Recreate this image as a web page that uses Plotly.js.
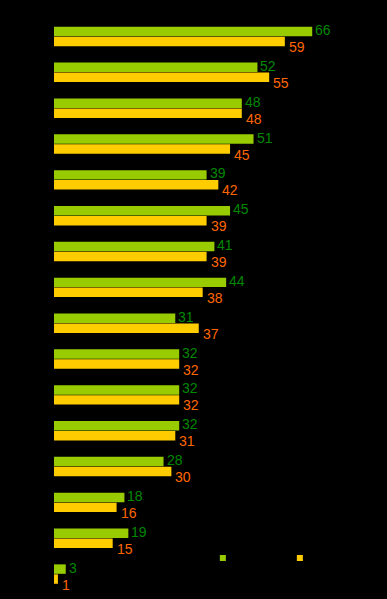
<!DOCTYPE html>
<html>
<head>
<meta charset="utf-8">
<script src="https://cdn.plot.ly/plotly-3.0.1.min.js"></script>
<style>html,body{margin:0;padding:0;background:#000;}#chart{width:387px;height:599px;}</style>
</head>
<body>
<div id="chart"></div>
<script>
var categories = ["c1","c2","c3","c4","c5","c6","c7","c8","c9","c10","c11","c12","c13","c14","c15","c16"];
var seriesA = [66,52,48,51,39,45,41,44,31,32,32,32,28,18,19,3];
var seriesB = [59,55,48,45,42,39,39,38,37,32,32,31,30,16,15,1];
var seriesNames = ["A","B"];

var GREEN = "#99cc00", YELLOW = "#ffcc00", GREEN_TXT = "#008800", ORANGE_TXT = "#ff6600";

var traces = [
  {type:"bar", orientation:"h", y:categories, x:seriesA, name:seriesNames[0],
   marker:{color:GREEN}, showlegend:false, hoverinfo:"none"},
  {type:"bar", orientation:"h", y:categories, x:seriesB, name:seriesNames[1],
   marker:{color:YELLOW}, showlegend:false, hoverinfo:"none"},
  {type:"scatter", mode:"markers", x:[null], y:[null], name:seriesNames[0],
   marker:{symbol:"square", size:6, color:GREEN}, hoverinfo:"none"},
  {type:"scatter", mode:"markers", x:[null], y:[null], name:seriesNames[1],
   marker:{symbol:"square", size:6, color:YELLOW}, hoverinfo:"none"}
];

var annotations = [];
categories.forEach(function(c, i){
  annotations.push({x:seriesA[i], y:i, text:String(seriesA[i]), showarrow:false,
    xanchor:"left", yanchor:"middle", xshift:1, yshift:6.5,
    font:{family:"Liberation Sans, Arial, sans-serif", size:14, color:GREEN_TXT}});
  annotations.push({x:seriesB[i], y:i, text:String(seriesB[i]), showarrow:false,
    xanchor:"left", yanchor:"middle", xshift:2, yshift:-10.5,
    font:{family:"Liberation Sans, Arial, sans-serif", size:14, color:ORANGE_TXT}});
});

var layout = {
  width:387, height:599,
  paper_bgcolor:"#000", plot_bgcolor:"#000",
  margin:{l:54, r:20, t:16, b:7},
  barmode:"group", bargap:0.444, bargroupgap:0.05,
  font:{family:"Liberation Sans, Arial, sans-serif", size:12, color:"#000"},
  xaxis:{range:[0,80], showgrid:false, zeroline:false, showticklabels:false, showline:false, fixedrange:true},
  yaxis:{type:"category", autorange:"reversed", showgrid:false, zeroline:false, showticklabels:false, showline:false, fixedrange:true},
  showlegend:true,
  legend:{orientation:"h", x:0.4756, xanchor:"left", y:0.059, yanchor:"middle",
    bgcolor:"rgba(0,0,0,0)", font:{color:"#000", size:12},
    entrywidth:32, entrywidthmode:"pixels"},
  annotations:annotations
};

Plotly.newPlot("chart", traces, layout, {displayModeBar:false, staticPlot:true});
</script>
</body>
</html>
